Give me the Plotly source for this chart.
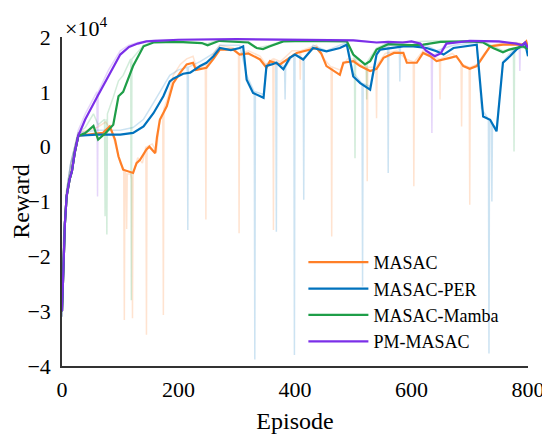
import plotly.graph_objects as go

# smoothed curves (reward in units of 1e4)
masac_ep = [0, 2, 5, 8, 13, 17, 22, 28, 50, 70, 82, 91, 97, 105, 122, 128, 134, 145, 150, 160, 163, 168,
            180, 191, 203, 214, 225, 230, 248, 260, 271, 294, 305, 320, 340, 351, 357, 374, 403, 437, 445,
            454, 477, 483, 500, 512, 529, 540, 552, 570, 586, 592, 609, 620, 632, 643, 666, 677, 689, 700,
            712, 723, 735, 757, 791, 797, 800]
masac_val = [-3.0, -2.2, -1.4, -0.9, -0.6, -0.45, -0.1, 0.2, 0.22, 0.25, 0.37, 0.13, -0.18, -0.42, -0.48,
             -0.3, -0.24, -0.05, 0.0, -0.12, 0.17, 0.49, 0.74, 1.16, 1.35, 1.5, 1.53, 1.4, 1.44, 1.6, 1.77,
             1.77, 1.68, 1.7, 1.59, 1.44, 1.56, 1.5, 1.71, 1.8, 1.7, 1.47, 1.31, 1.53, 1.56, 1.47, 1.38,
             1.42, 1.62, 1.71, 1.71, 1.53, 1.53, 1.71, 1.65, 1.56, 1.62, 1.65, 1.47, 1.42, 1.47, 1.65, 1.83,
             1.86, 1.86, 1.92, 1.8]

per_ep = [0, 2, 5, 8, 13, 17, 22, 28, 60, 100, 122, 140, 157, 174, 185, 191, 208, 220, 237, 248, 260, 271,
          290, 305, 311, 317, 328, 346, 351, 360, 368, 380, 391, 400, 414, 431, 454, 477, 489, 500, 512, 529,
          540, 546, 563, 586, 603, 626, 643, 655, 672, 712, 723, 735, 746, 757, 769, 780, 795, 800]
per_val = [-3.0, -2.2, -1.4, -0.9, -0.6, -0.45, -0.1, 0.2, 0.22, 0.22, 0.25, 0.37, 0.61, 0.92, 1.19, 1.24,
           1.33, 1.35, 1.47, 1.53, 1.65, 1.8, 1.76, 1.8, 1.83, 1.22, 0.98, 0.89, 1.47, 1.5, 1.53, 1.41, 1.62,
           1.68, 1.59, 1.8, 1.74, 1.8, 1.86, 1.28, 1.16, 1.04, 1.68, 1.77, 1.8, 1.83, 1.83, 1.8, 1.74, 1.68,
           1.8, 1.86, 0.55, 0.49, 0.28, 1.53, 1.65, 1.77, 1.89, 1.65]

mamba_ep = [0, 2, 5, 8, 13, 17, 22, 28, 40, 54, 62, 75, 88, 97, 105, 122, 140, 157, 200, 240, 250, 270,
            300, 320, 334, 345, 357, 380, 420, 489, 500, 520, 529, 540, 560, 600, 620, 650, 700, 723, 740,
            757, 768, 791, 800]
mamba_val = [-3.0, -2.2, -1.4, -0.9, -0.6, -0.45, -0.1, 0.2, 0.25, 0.38, 0.13, 0.25, 0.4, 0.92, 1.0, 1.47,
             1.83, 1.9, 1.91, 1.89, 1.85, 1.93, 1.92, 1.9, 1.8, 1.78, 1.83, 1.92, 1.93, 1.92, 1.68, 1.5,
             1.56, 1.77, 1.87, 1.85, 1.86, 1.91, 1.92, 1.9, 1.8, 1.72, 1.77, 1.83, 1.78]

pm_ep = [0, 2, 5, 8, 13, 17, 22, 28, 40, 60, 80, 100, 115, 130, 145, 160, 200, 300, 400, 500, 540, 560,
         585, 600, 615, 625, 640, 650, 660, 700, 750, 780, 790, 795, 800]
pm_val = [-3.0, -2.2, -1.4, -0.9, -0.6, -0.45, -0.1, 0.2, 0.5, 0.9, 1.3, 1.68, 1.82, 1.88, 1.92, 1.93,
          1.95, 1.96, 1.95, 1.94, 1.9, 1.91, 1.9, 1.92, 1.88, 1.75, 1.65, 1.7, 1.88, 1.93, 1.92, 1.88,
          1.85, 1.9, 1.8]

# raw (unsmoothed) episodes, drawn faint behind
masac_raw_ep = [0, 3, 8, 15, 22, 28, 45, 60, 75, 85, 95, 100, 106, 107, 108, 110, 111, 112, 118, 120, 121,
                122, 130, 138, 144, 145, 146, 155, 162, 168, 173, 174, 175, 182, 191, 203, 214, 225, 232,
                246, 247, 248, 260, 271, 294, 303, 304, 305, 320, 340, 350, 362, 363, 364, 375, 395, 408,
                409, 410, 437, 450, 462, 463, 464, 477, 490, 500, 512, 523, 524, 525, 539, 540, 541, 555,
                575, 590, 603, 604, 605, 620, 635, 648, 649, 650, 670, 685, 686, 687, 699, 700, 701, 712,
                725, 740, 760, 780, 800]
masac_raw_val = [-3.0, -1.6, -0.8, -0.4, 0.0, 0.25, 0.3, 0.35, 0.45, 0.3, -0.1, -0.3, -0.4, -3.16, -0.45,
                 -0.5, -1.5, -0.5, -0.5, -0.6, -3.13, -0.5, -0.2, -0.3, 0.0, -3.43, 0.0, 0.05, -0.1, 0.5,
                 0.6, -3.07, 0.7, 0.9, 1.3, 1.5, 1.6, 1.65, 1.4, 1.5, -1.33, 1.5, 1.7, 1.85, 1.8, 1.7,
                 -1.58, 1.7, 1.75, 1.65, 1.5, 1.6, -1.52, 1.6, 1.55, 1.75, 1.75, 1.22, 1.75, 1.85, 1.6,
                 1.45, -1.64, 1.45, 1.4, 1.6, 1.6, 1.5, 1.45, -0.63, 1.45, 1.45, 0.52, 1.5, 1.7, 1.75,
                 1.6, 1.55, -0.72, 1.55, 1.75, 1.65, 1.6, 0.86, 1.6, 1.7, 1.55, 0.37, 1.5, 1.45, -1.06,
                 1.45, 1.5, 1.7, 1.85, 1.9, 1.9, 1.85]

per_raw_ep = [0, 3, 8, 15, 22, 28, 60, 100, 122, 140, 157, 174, 185, 200, 215, 216, 217, 237, 260, 271,
              305, 317, 330, 331, 332, 346, 351, 367, 368, 369, 382, 383, 384, 398, 399, 400, 414, 415,
              416, 431, 454, 477, 489, 500, 515, 516, 517, 529, 540, 559, 560, 561, 579, 580, 581, 603,
              626, 643, 672, 712, 720, 732, 733, 734, 737, 738, 739, 746, 757, 769, 780, 795, 800]
per_raw_val = [-3.1, -1.6, -0.8, -0.3, 0.0, 0.25, 0.3, 0.3, 0.35, 0.5, 0.8, 1.1, 1.3, 1.4, 1.45, -1.52,
               1.45, 1.55, 1.7, 1.85, 1.85, 1.3, 1.0, -3.88, 1.0, 0.95, 1.5, 1.55, -1.55, 1.55, 1.45, 0.86,
               1.45, 1.7, -3.8, 1.7, 1.6, -0.97, 1.6, 1.85, 1.75, 1.85, 1.9, 1.35, 1.15, -2.55, 1.15, 1.1,
               1.7, 1.85, -0.48, 1.85, 1.85, 1.19, 1.85, 1.85, 1.85, 1.75, 1.85, 1.9, 0.7, 0.5, -3.77, 0.5,
               0.4, -1.0, 0.4, 0.35, 1.55, 1.7, 1.8, 1.9, 1.7]

mamba_raw_ep = [0, 3, 8, 15, 22, 28, 40, 54, 62, 73, 74, 75, 76, 77, 78, 88, 97, 105, 118, 119, 120, 140,
                160, 250, 270, 320, 335, 357, 380, 489, 500, 502, 503, 504, 515, 522, 523, 524, 540, 560,
                650, 723, 757, 775, 776, 777, 800]
mamba_raw_val = [-3.1, -1.6, -0.8, -0.3, 0.0, 0.25, 0.35, 0.6, 0.4, 0.5, -1.27, 0.5, 0.5, -1.6, 0.6, 0.9,
                 1.2, 1.3, 1.6, -2.8, 1.6, 1.85, 1.92, 1.88, 1.95, 1.92, 1.8, 1.85, 1.93, 1.93, 1.7, 1.6,
                 -0.21, 1.6, 1.55, 1.5, 0.86, 1.55, 1.8, 1.9, 1.93, 1.92, 1.75, 1.8, -0.09, 1.8, 1.8]

pm_raw_ep = [0, 3, 8, 15, 22, 28, 40, 60, 61, 62, 80, 100, 115, 130, 160, 300, 500, 540, 600, 625, 634, 635,
             636, 650, 660, 700, 785, 786, 787, 800]
pm_raw_val = [-3.1, -1.6, -0.8, -0.3, 0.0, 0.3, 0.6, 1.0, -0.91, 1.0, 1.4, 1.75, 1.85, 1.9, 1.95, 1.96,
              1.95, 1.9, 1.92, 1.75, 1.65, 0.25, 1.65, 1.75, 1.9, 1.93, 1.88, 1.38, 1.88, 1.85]

x_ticks = [0, 200, 400, 600, 800]
y_ticks = [-4, -3, -2, -1, 0, 1, 2]
y_tick_text = ['\u22124', '\u22123', '\u22122', '\u22121', '0', '1', '2']

names = ['MASAC', 'MASAC-PER', 'MASAC-Mamba', 'PM-MASAC']
colors = ['#FF7F27', '#0072BD', '#1E9E48', '#7B2FE8']
faint = ['rgba(255,127,39,0.22)', 'rgba(0,114,189,0.2)', 'rgba(30,158,72,0.2)', 'rgba(123,47,232,0.2)']

raw = [(masac_raw_ep, masac_raw_val), (per_raw_ep, per_raw_val),
       (mamba_raw_ep, mamba_raw_val), (pm_raw_ep, pm_raw_val)]
smooth = [(masac_ep, masac_val), (per_ep, per_val), (mamba_ep, mamba_val), (pm_ep, pm_val)]

serif = 'Liberation Serif, Times New Roman, DejaVu Serif, serif'

fig = go.Figure()

# faint raw curves first so they sit underneath
for (rx, ry), c in zip(raw, faint):
    fig.add_trace(go.Scatter(x=rx, y=ry, mode='lines', line=dict(color=c, width=1.5),
                             showlegend=False, hoverinfo='skip'))

for (sx, sy), c, n in zip(smooth, colors, names):
    fig.add_trace(go.Scatter(x=sx, y=sy, mode='lines', name=n, line=dict(color=c, width=2.2)))

# page body adds an 8px margin, so the figure is a bit smaller than the window
fig.update_layout(
    width=542, height=427,
    margin=dict(l=54, r=22, t=29, b=69),
    plot_bgcolor='white', paper_bgcolor='white',
    font=dict(family=serif, size=22, color='black'),
    xaxis=dict(range=[0, 800], tickvals=x_ticks, showgrid=False, zeroline=False, automargin=False,
               showline=True, linecolor='#333333', linewidth=1.5,
               ticks='outside', ticklen=3, tickcolor='rgba(0,0,0,0)',
               title=dict(text='Episode', font=dict(size=24), standoff=11)),
    yaxis=dict(range=[-4, 2], tickvals=y_ticks, ticktext=y_tick_text, showgrid=False, zeroline=False,
               automargin=False, showline=True, linecolor='#333333', linewidth=1.5,
               ticks='outside', ticklen=5, tickcolor='rgba(0,0,0,0)',
               title=dict(text='Reward', font=dict(size=24), standoff=0)),
    legend=dict(x=0.518, y=0.371, xanchor='left', yanchor='top', bgcolor='rgba(0,0,0,0)',
                font=dict(size=18), tracegroupgap=0, itemwidth=60),
    annotations=[dict(text='\u00d710<sup>4</sup>', xref='paper', yref='paper', x=0.0, y=1.0,
                      xanchor='left', yanchor='bottom', xshift=1, yshift=-6, showarrow=False,
                      font=dict(size=22))],
)

fig.write_html("out.html")
